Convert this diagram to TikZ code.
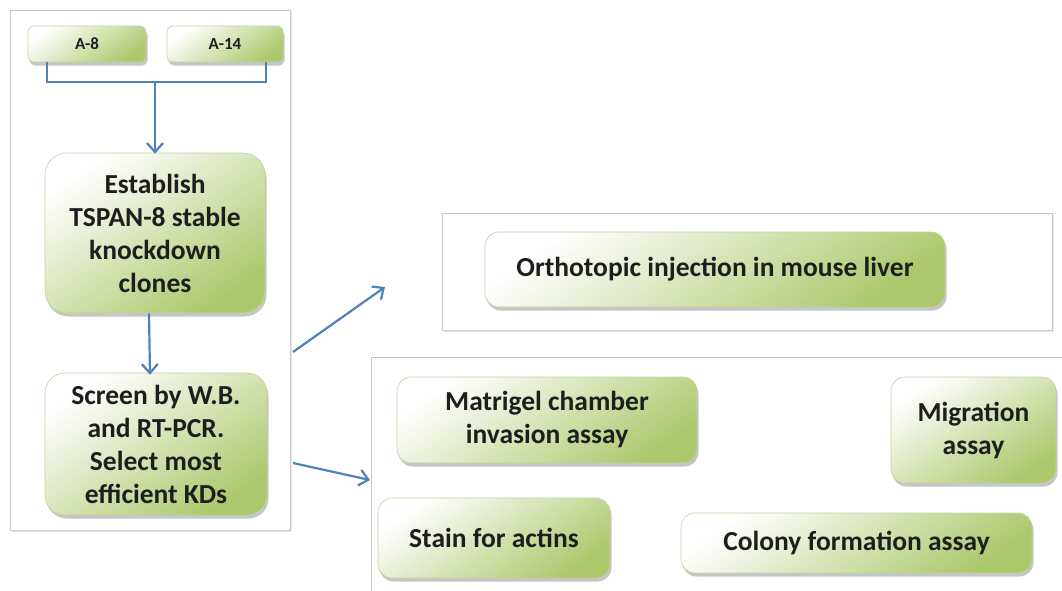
\documentclass[tikz,border=0pt]{standalone}
\usepackage{fontspec}
\setmainfont{Carlito}
\usetikzlibrary{shadows,arrows.meta}
\definecolor{conncol}{RGB}{79,129,189}
\definecolor{boxgreen}{RGB}{172,200,108}
\definecolor{boxedge}{RGB}{196,210,160}
\definecolor{txt}{RGB}{30,30,30}
\tikzset{
  panel/.style={draw=black!22, line width=0.8pt, fill=white,
    drop shadow={opacity=0.18, shadow xshift=1.5pt, shadow yshift=-2pt}},
  gbox/.style={rectangle, rounded corners=14pt, draw=boxedge, line width=0.6pt,
    left color=white, right color=boxgreen, shading angle=35,
    drop shadow={opacity=0.45, shadow xshift=1.5pt, shadow yshift=-3.5pt},
    inner sep=0pt, align=center, text=txt,
    font=\fontsize{27.5}{33}\selectfont\bfseries},
  sbox/.style={gbox, rounded corners=6pt, font=\fontsize{17}{20}\selectfont\bfseries},
  conn/.style={draw=conncol, line width=2.2pt},
  arr/.style={conn, -{Straight Barb[length=9pt,width=16pt,line width=2.2pt]}}
}
\begin{document}
\begin{tikzpicture}[x=1pt,y=-1pt]
\useasboundingbox (0,0) rectangle (1062,590);
\clip (0,0) rectangle (1062,590);
\fill[white] (0,0) rectangle (1062,590);
% panels
\node[panel, minimum width=280pt, minimum height=520pt, inner sep=0pt] (lp) at (150,270) {};
\node[panel, minimum width=610pt, minimum height=117pt, inner sep=0pt] (tp) at (747,271.5) {};
\node[panel, minimum width=710pt, minimum height=260pt, inner sep=0pt] (bp) at (726,487) {};
% boxes
\node[sbox, minimum width=118pt, minimum height=36pt] (a8) at (87,44) {A-8};
\node[sbox, minimum width=116pt, minimum height=36pt] (a14) at (225,44) {A-14};
\node[gbox, rounded corners=22pt, minimum width=220pt, minimum height=160pt] (est) at (155,233)
  {Establish\\TSPAN-8 stable\\knockdown\\clones};
\node[gbox, rounded corners=20pt, minimum width=222pt, minimum height=142pt] (scr) at (156,444)
  {Screen by W.B.\\and RT-PCR.\\Select most\\efficient KDs};
\node[gbox, minimum width=460pt, minimum height=75pt] (orth) at (715,269.5)
  {Orthotopic injection in mouse liver};
\node[gbox, minimum width=300pt, minimum height=86pt] (mat) at (547,420)
  {Matrigel chamber\\invasion assay};
\node[gbox, minimum width=165pt, minimum height=106pt] (mig) at (973.5,430)
  {Migration\\assay};
\node[gbox, minimum width=232pt, minimum height=80pt] (stain) at (494,538)
  {Stain for actins};
\node[gbox, minimum width=351pt, minimum height=60pt] (col) at (856.5,543)
  {Colony formation assay};
% connectors
\coordinate (jn) at (est.north |- 0,82);
\draw[conn] ([xshift=-40pt]a8.south) |- (jn) -| ([xshift=41pt]a14.south);
\draw[arr] (jn) -- ([yshift=-1pt]est.north);
\draw[arr] ([xshift=-6pt]est.south) -- ([xshift=-6pt,yshift=-2pt]scr.north);
\coordinate (t1) at (293,352);
\coordinate (h1) at (385,287);
\draw[arr] (t1) -- (h1);
\coordinate (t2) at (293,463);
\coordinate (h2) at (370,480);
\draw[arr] (t2) -- (h2);
\end{tikzpicture}
\end{document}
